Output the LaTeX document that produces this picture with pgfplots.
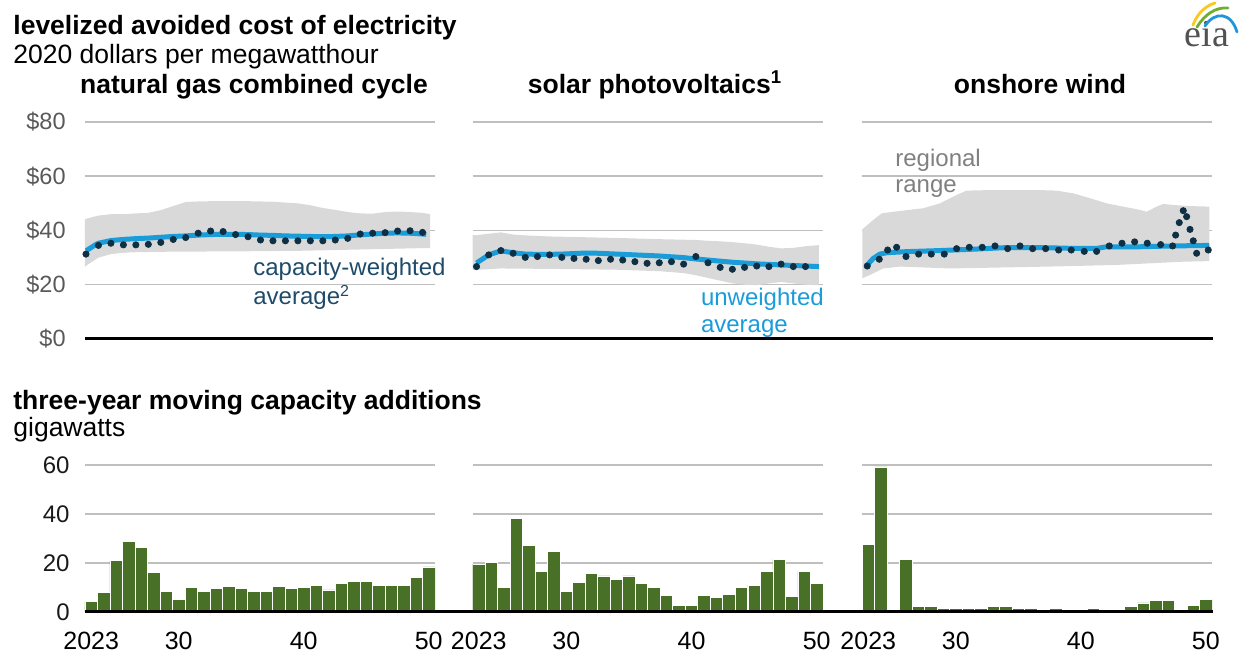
\documentclass[border=0pt]{standalone}
\usepackage{fontspec}
\setmainfont{Liberation Sans}
\newfontfamily\eiafont{Liberation Serif}
\usepackage{pgfplots}
\pgfplotsset{compat=1.18}

\definecolor{bandgray}{RGB}{217,217,217}
\definecolor{gridgray}{RGB}{191,191,191}
\definecolor{linebl}{RGB}{26,156,217}
\definecolor{dotnavy}{RGB}{14,47,68}
\definecolor{tealtxt}{RGB}{30,75,105}
\definecolor{bargreen}{RGB}{73,112,39}
\definecolor{ticklab}{RGB}{89,89,89}
\definecolor{annogray}{RGB}{128,128,128}

\newcommand\fT{\fontsize{13.25}{15}\selectfont\bfseries}
\newcommand\fN{\fontsize{12}{14}\selectfont}

\pgfplotsset{
  base/.style={scale only axis, axis line style={draw=none}, major tick length=0pt,
    tick style={draw=none}, ymajorgrids, grid style={gridgray, line width=0.75pt},
    /pgf/number format/assume math mode=true, anchor=south west},
  top/.style={base, height=108.5pt, ymin=0, ymax=80, ytick={0,20,40,60,80}, xtick=\empty},
  bot/.style={base, height=73.5pt, ymin=0, ymax=60, ytick={0,20,40,60}, xmin=2022.5, xmax=2050.5,
    xtick={2023,2030,2040,2050}, xticklabels={2023,30,40,50},
    xticklabel style={font=\fontsize{12.5}{14}\selectfont, anchor=base, inner sep=0pt, yshift=-19pt}},
  band/.style={fill=bandgray, draw=none},
  dots/.style={only marks, mark=*, mark size=1.55pt, dotnavy},
  avg/.style={linebl, line width=2.5pt, no marks, line join=round},
  bars/.style={ybar, bar width=6.25pt, fill=bargreen, draw=white, line width=0.4pt},
}

\begin{document}
\begin{tikzpicture}
\path[use as bounding box] (0,0) rectangle (621pt,328pt);

% ---------------- top row ----------------
\begin{axis}[top, at={(42.5pt,158.5pt)}, width=175pt, xmin=2022.92, xmax=2051.0,
  yticklabels={\$0,\$20,\$40,\$60,\$80},
  yticklabel style={font=\fontsize{11.75}{14}\selectfont, text=ticklab, anchor=east, inner sep=0pt, xshift=-9.5pt}]
% regional range: upper edge, then lower edge reversed
\addplot[band] coordinates {(2022.92,44) (2023,44.3) (2024,45.5) (2025,46) (2026,46) (2027,46.3) (2028,46.5) (2029,47.5) (2030,49) (2031,50.5) (2032,50.7) (2033,50.8) (2034,50.8) (2035,50.8) (2036,50.8) (2037,50.7) (2038,50.6) (2039,50.3) (2040,50) (2041,49.3) (2042,48.3) (2043,47.6) (2044,46.8) (2045,46.3) (2046,46.2) (2047,46.8) (2048,47) (2049,46.8) (2050,46.5) (2050.6,46)
 (2050.6,33.5) (2050,33.5) (2045,33) (2040,32.5) (2035,32.3) (2030,32.2) (2027,32) (2026,31.8) (2025,31.3) (2024,30) (2023,27) (2022.92,26.5)} -- cycle;
\addplot[dots] coordinates {(2023,31.3) (2024,34.5) (2025,35.3) (2026,34.7) (2027,34.7) (2028,34.9) (2029,35.6) (2030,36.7) (2031,37.4) (2032,39.0) (2033,39.8) (2034,39.6) (2035,38.5) (2036,37.7) (2037,36.5) (2038,36.2) (2039,36.2) (2040,36.2) (2041,36.2) (2042,36.2) (2043,36.5) (2044,37.1) (2045,38.7) (2046,39.0) (2047,39.2) (2048,39.8) (2049,39.9) (2050,39.3)};
\addplot[avg] coordinates {(2023,32.5) (2023.85,35.0) (2024,35.3) (2025,36.3) (2026,36.7) (2027,37.0) (2028,37.2) (2029,37.5) (2030,37.8) (2031,38.0) (2032,38.3) (2033,38.5) (2034,38.6) (2035,38.6) (2036,38.5) (2037,38.3) (2038,38.2) (2039,38.0) (2040,37.9) (2041,37.8) (2042,37.7) (2043,37.8) (2044,38.0) (2045,38.4) (2046,38.7) (2047,39.0) (2048,39.1) (2049,39.0) (2050,38.7) (2050.3,38.6)};
\end{axis}

\begin{axis}[top, at={(236.25pt,158.5pt)}, width=175.25pt, xmin=2022.67, xmax=2051.44, yticklabels={}]
\addplot[band] coordinates {(2022.67,38.3) (2023,38.3) (2024,38.8) (2025,39.3) (2026,38.5) (2027,38.2) (2028,38.0) (2029,37.8) (2030,37.7) (2032,37.5) (2035,37.2) (2038,36.8) (2040,36.6) (2041,36.5) (2042,36.2) (2043,36.0) (2044,35.7) (2045,35.3) (2046,34.8) (2047,34.0) (2048,33.4) (2049,33.6) (2050,34.2) (2051.1,34.6)
 (2051.1,19.8) (2050,20.0) (2049,20.5) (2048,21.0) (2047,20.5) (2046,19.8) (2045,20.0) (2044,20.5) (2043,21.5) (2042,22.5) (2041,23.5) (2040,24.3) (2038,25.0) (2036,25.3) (2035,25.5) (2030,25.8) (2025,26.0) (2023,25.5) (2022.67,25.5)} -- cycle;
\addplot[dots] coordinates {(2023,26.7) (2024,31.0) (2025,32.6) (2026,31.6) (2027,30.1) (2028,30.4) (2029,31.0) (2030,30.1) (2031,29.7) (2032,29.4) (2033,28.9) (2034,29.4) (2035,29.1) (2036,28.5) (2037,27.9) (2038,28.1) (2039,28.5) (2040,27.6) (2041,30.4) (2042,28.1) (2043,26.4) (2044,25.7) (2045,26.4) (2046,26.9) (2047,26.7) (2048,27.6) (2049,26.7) (2050,26.7)};
\addplot[avg] coordinates {(2023,28.0) (2024,31.0) (2025,32.5) (2026,31.8) (2027,31.3) (2028,31.2) (2029,31.2) (2030,31.3) (2031,31.5) (2032,31.7) (2033,31.6) (2034,31.4) (2035,31.2) (2036,31.0) (2037,30.8) (2038,30.6) (2039,30.3) (2040,30.0) (2041,29.5) (2042,29.1) (2043,28.7) (2044,28.3) (2045,28.0) (2046,27.7) (2047,27.5) (2048,27.3) (2049,27.1) (2050,26.9) (2051.1,26.7)};
\end{axis}

\begin{axis}[top, at={(431pt,158.5pt)}, width=175pt, xmin=2022.58, xmax=2050.58, yticklabels={}]
\addplot[band] coordinates {(2022.6,40.4) (2023.48,43.9) (2024.15,46.3) (2025.08,46.9) (2027.48,48.2) (2028.81,50.0) (2030.15,53.1) (2030.95,54.7) (2032.81,54.9) (2036.81,54.9) (2038.15,54.7) (2039.48,53.7) (2040.81,51.9) (2042.15,50.0) (2043.48,48.8) (2044.81,47.6) (2045.35,46.9) (2046.15,48.8) (2046.68,49.8) (2047.48,49.4) (2048.81,49.0) (2050.36,48.8)
 (2050.36,28.7) (2048.28,28.5) (2042.95,27.3) (2037.62,26.7) (2029.62,26.0) (2025.62,26.7) (2024.28,26.0) (2023.21,23.6) (2022.6,22.4)} -- cycle;
\addplot[dots] coordinates {(2023.00,26.9) (2023.96,29.4) (2024.63,32.8) (2025.35,33.8) (2026.10,30.4) (2027.11,31.3) (2028.12,31.3) (2029.16,31.3) (2030.15,33.3) (2031.16,33.8) (2032.20,33.8) (2033.22,34.3) (2034.23,33.3) (2035.22,34.3) (2036.23,33.3) (2037.27,33.3) (2038.31,32.8) (2039.32,32.8) (2040.36,32.3) (2041.35,32.3) (2042.36,34.3) (2043.38,35.3) (2044.39,35.8) (2045.40,35.3) (2046.47,34.8) (2047.43,34.3) (2047.67,38.3) (2047.96,42.9) (2048.28,47.3) (2048.55,45.1) (2048.82,40.4) (2049.08,36.2) (2049.35,31.6) (2050.28,32.8)};
\addplot[avg] coordinates {(2023.0,27.3) (2023.48,29.7) (2024.01,31.3) (2024.55,31.8) (2026.15,32.2) (2028.81,32.6) (2031.48,33.1) (2034.15,33.7) (2036.81,33.7) (2039.48,33.4) (2041.35,33.4) (2042.15,34.0) (2044.81,34.0) (2047.48,34.3) (2050.36,34.5)};
\end{axis}

% ---------------- bottom row ----------------
\begin{axis}[bot, at={(42.5pt,22pt)}, width=175pt,
  yticklabel style={font=\fontsize{12}{14}\selectfont, text=black!90, anchor=east, inner sep=0pt, xshift=-7.5pt}]
\addplot[bars] coordinates {(2023,4.2) (2024,7.9) (2025,20.9) (2026,28.8) (2027,26.3) (2028,16.2) (2029,8.4) (2030,5.2) (2031,10.1) (2032,8.4) (2033,9.5) (2034,10.6) (2035,9.5) (2036,8.4) (2037,8.4) (2038,10.6) (2039,9.5) (2040,10.1) (2041,11.0) (2042,9.0) (2043,11.6) (2044,12.5) (2045,12.5) (2046,11.0) (2047,11.0) (2048,11.0) (2049,14.2) (2050,18.4)};
\end{axis}

\begin{axis}[bot, at={(236.25pt,22pt)}, width=175.25pt, yticklabels={}]
\addplot[bars] coordinates {(2023,19.5) (2024,20.4) (2025,10.1) (2026,38.2) (2027,27.2) (2028,16.7) (2029,24.6) (2030,8.4) (2031,12.1) (2032,15.8) (2033,14.7) (2034,13.1) (2035,14.7) (2036,11.6) (2037,10.1) (2038,6.8) (2039,2.7) (2040,2.7) (2041,6.8) (2042,5.8) (2043,7.3) (2044,10.1) (2045,11.0) (2046,16.7) (2047,21.5) (2048,6.4) (2049,16.7) (2050,11.6)};
\end{axis}

\begin{axis}[bot, at={(431pt,22pt)}, width=175pt, yticklabels={}]
\addplot[bars] coordinates {(2023,27.6) (2024,59.2) (2025,0) (2026,21.5) (2027,2.2) (2028,2.2) (2029,1.6) (2030,1.6) (2031,1.6) (2032,1.6) (2033,2.2) (2034,2.2) (2035,1.6) (2036,1.6) (2037,0) (2038,1.6) (2039,0) (2040,1.1) (2041,1.6) (2042,0) (2043,1.1) (2044,2.2) (2045,3.7) (2046,4.8) (2047,4.8) (2048,0) (2049,2.7) (2050,5.3)};
\end{axis}

% baselines
\draw[black, line width=1.5pt] (42.5pt,158.5pt) -- (606.5pt,158.5pt);
\draw[black, line width=1.5pt] (42.5pt,22pt) -- (606.5pt,22pt);

% titles
\node[anchor=base west, inner sep=0pt, font=\fT] at (6.5pt,310.5pt) {levelized avoided cost of electricity};
\node[anchor=base west, inner sep=0pt, font=\fontsize{13.25}{15}\selectfont] at (6.5pt,296pt) {2020 dollars per megawatthour};
\node[anchor=base, inner sep=0pt, font=\fT] at (127pt,281pt) {natural gas combined cycle};
\node[anchor=base, inner sep=0pt, font=\fT] at (327.5pt,281pt) {solar photovoltaics\textsuperscript{1}};
\node[anchor=base, inner sep=0pt, font=\fT] at (520pt,281pt) {onshore wind};
\node[anchor=base west, inner sep=0pt, font=\fT] at (6.5pt,123pt) {three-year moving capacity additions};
\node[anchor=base west, inner sep=0pt, font=\fontsize{13.25}{15}\selectfont] at (6.5pt,109.5pt) {gigawatts};

% annotations
\node[anchor=base west, inner sep=0pt, font=\fN, text=tealtxt] at (126.5pt,190pt) {capacity-weighted};
\node[anchor=base west, inner sep=0pt, font=\fN, text=tealtxt] at (126.5pt,175.5pt) {average\textsuperscript{2}};
\node[anchor=base west, inner sep=0pt, font=\fN, text=linebl] at (350.3pt,175pt) {unweighted};
\node[anchor=base west, inner sep=0pt, font=\fN, text=linebl] at (350.3pt,161.5pt) {average};
\node[anchor=base west, inner sep=0pt, font=\fN, text=annogray] at (447.5pt,244.5pt) {regional};
\node[anchor=base west, inner sep=0pt, font=\fN, text=annogray] at (447.5pt,231.5pt) {range};

% eia logo
\node[anchor=base, inner sep=0pt, font=\eiafont\fontsize{19}{21}\selectfont, text=black!68] at (603.5pt,304.5pt) {eia};
\begin{scope}[yshift=4pt]
\draw[line width=1.4pt, line cap=round, color={rgb,255:red,250;green,200;blue,30}] (596.5pt,311.5pt) .. controls (598.5pt,317pt) and (602.5pt,321pt) .. (607.5pt,322.5pt);
\draw[line width=1.4pt, line cap=round, color={rgb,255:red,110;green,175;blue,50}] (598.5pt,310.5pt) .. controls (602.5pt,317pt) and (608pt,320.5pt) .. (614pt,320pt);
\draw[line width=1.4pt, line cap=round, color={rgb,255:red,30;green,150;blue,220}] (602.5pt,311pt) .. controls (607.5pt,318.5pt) and (615.5pt,318pt) .. (618.5pt,308pt);
\end{scope}
\end{tikzpicture}
\end{document}
